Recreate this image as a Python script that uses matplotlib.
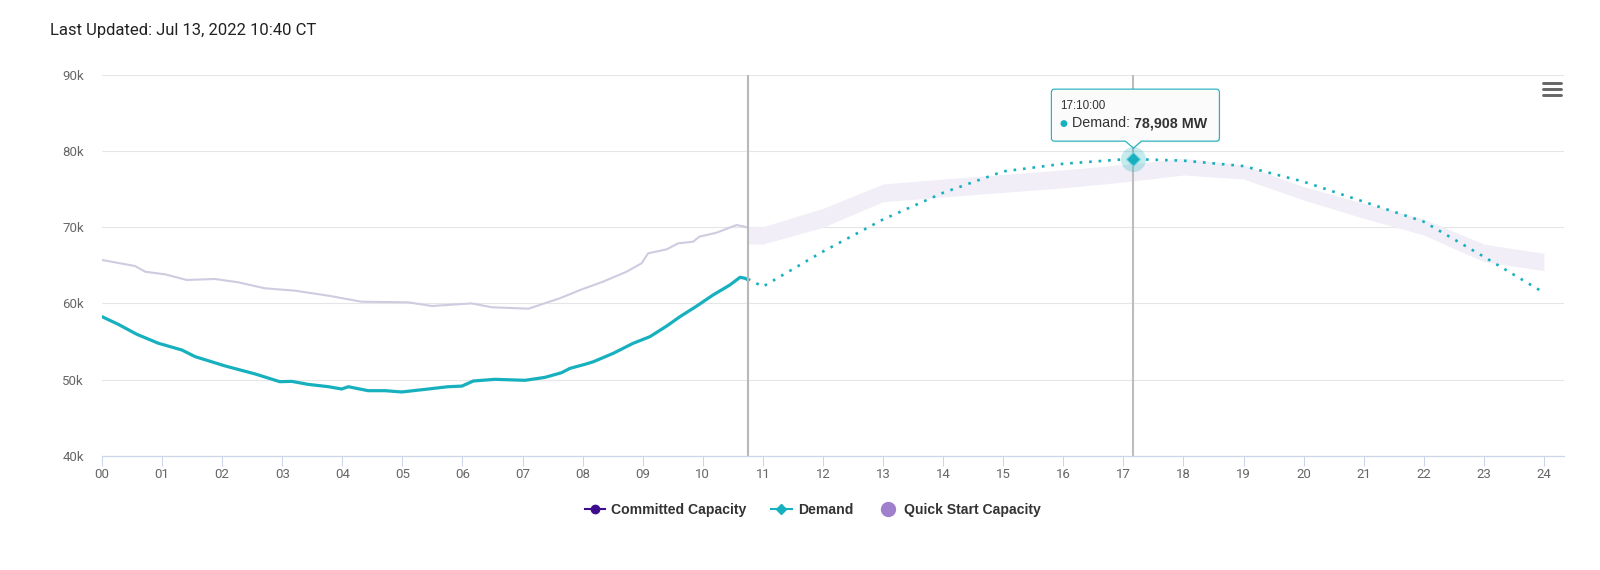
import numpy as np
import matplotlib.pyplot as plt
from matplotlib.lines import Line2D
from matplotlib.path import Path
from matplotlib.patches import PathPatch
from matplotlib.transforms import IdentityTransform

# actual demand (hour of day, MW)
demand_hours = [0.00, 0.27, 0.58, 0.94, 1.33, 1.55, 2.05, 2.55, 2.96, 3.16, 3.43, 3.77,
                3.99, 4.10, 4.43, 4.71, 4.99, 5.43, 5.76, 5.99, 6.18, 6.54, 7.04, 7.37,
                7.65, 7.79, 8.04, 8.18, 8.51, 8.84, 9.12, 9.40, 9.62, 9.90, 10.17, 10.45,
                10.62, 10.70, 10.75]
demand_mw = [58260, 57260, 55950, 54770, 53890, 53020, 51800, 50750, 49740, 49780, 49390, 49080,
             48780, 49080, 48560, 48560, 48390, 48780, 49080, 49160, 49830, 50050, 49920, 50300,
             50920, 51490, 52020, 52360, 53460, 54770, 55640, 57040, 58260, 59660, 61100, 62410,
             63420, 63300, 63100]

# committed capacity (shown dimmed)
committed_hours = [0.00, 0.55, 0.72, 1.05, 1.41, 1.88, 2.27, 2.71, 3.21, 3.77, 4.32, 5.10,
                   5.49, 6.15, 6.49, 7.10, 7.62, 7.96, 8.34, 8.73, 8.98, 9.09, 9.40, 9.59,
                   9.84, 9.94, 10.23, 10.56, 10.67, 10.72]
committed_mw = [65690, 64900, 64150, 63810, 63070, 63200, 62760, 61980, 61670, 61010, 60220, 60140,
                59660, 60000, 59490, 59310, 60670, 61760, 62850, 64150, 65250, 66560, 67090, 67870,
                68090, 68740, 69270, 70270, 70100, 70000]

# forecast demand (dotted)
forecast_hours = [10.75, 11, 12, 13, 14, 15, 16, 17, 17 + 10 / 60, 18, 19, 20, 21, 22, 23, 24]
forecast_mw = [63200, 62200, 66800, 71000, 74500, 77300, 78300, 78880, 78908, 78710, 78000,
               75950, 73330, 70710, 66120, 61400]

# quick start capacity band
qs_hours = [10.75, 11, 12, 13, 14, 15, 16, 17, 18, 19, 20, 21, 22, 23, 24]
qs_low = [67780, 67780, 69970, 73330, 73950, 74550, 75150, 75900, 76830, 76300, 73550, 71150,
          68960, 65470, 64290]
qs_high = [70050, 70050, 72460, 75650, 76300, 76900, 77500, 78200, 79000, 78140, 75300, 73120,
           71060, 67780, 66560]

now_hour = 10.75
hover_hour = 17 + 10 / 60
hover_mw = 78908
hover_label = "17:10:00"

x_ticks = list(range(25))
x_labels = [f"{h:02d}" for h in x_ticks]
y_ticks = [40000, 50000, 60000, 70000, 80000, 90000]
y_labels = ["40k", "50k", "60k", "70k", "80k", "90k"]

teal = '#17b0bf'
dim = '#cfcbe0'
band = '#f1eef7'
committed_color = '#3d0d8e'
quick_color = '#a07fcd'

plt.rcParams['font.family'] = ['Roboto', 'DejaVu Sans']
hc_font = ['Liberation Sans', 'DejaVu Sans']

fig = plt.figure(figsize=(16, 5.7), dpi=100)
ax = fig.add_axes([102 / 1600, 114 / 570, 1462 / 1600, 381.5 / 570])

ax.fill_between(qs_hours, qs_low, qs_high, color=band, lw=0, zorder=1)
ax.plot(committed_hours, committed_mw, color=dim, lw=1.5, zorder=2)
ax.plot(demand_hours, demand_mw, color=teal, lw=2.3, zorder=3, solid_capstyle='round')
ax.plot(forecast_hours, forecast_mw, color=teal, lw=1.9, ls=(0, (1, 2.6)), zorder=3)

ax.axvline(now_hour, color='#b8b8b8', lw=1.5, zorder=4)
ax.axvline(hover_hour, color='#bdbdbd', lw=1.5, zorder=4)

ax.plot([hover_hour], [hover_mw], 'o', ms=18, color=teal, alpha=0.25, mew=0, zorder=5)
ax.plot([hover_hour], [hover_mw], 'D', ms=7, color=teal, mec='#7fd6de', mew=0.8, zorder=6)

ax.set_xlim(0, 1462 / 60.08)
ax.set_ylim(40000, 90000)
ax.set_xticks(x_ticks)
ax.set_xticklabels(x_labels)
ax.set_yticks(y_ticks)
ax.set_yticklabels(y_labels)
ax.tick_params(axis='x', length=7.5, width=0.75, color='#ccd6eb', labelsize=9.5,
               labelcolor='#666666', pad=1.5)
ax.tick_params(axis='y', length=0, labelsize=9.5, labelcolor='#666666', pad=13)
ax.grid(axis='y', color='#e6e6e6', lw=0.8, zorder=0)
ax.set_axisbelow(True)
for side in ['top', 'right', 'left']:
    ax.spines[side].set_visible(False)
ax.spines['bottom'].set_color('#ccd6eb')
ax.spines['bottom'].set_linewidth(0.9)
ax.spines['bottom'].set_zorder(5)

fig.text(50 / 1600, 1 - 30.5 / 570, "Last Updated: Jul 13, 2022 10:40 CT", fontsize=12,
         color='#222222', va='center')

# legend
handles = [
    Line2D([], [], color=committed_color, lw=1.5, marker='o', ms=6),
    Line2D([], [], color=teal, lw=1.5, marker='D', ms=5),
    Line2D([], [], color=quick_color, lw=0, marker='o', ms=10),
]
fig.legend(handles, ["Committed Capacity", "Demand", "Quick Start Capacity"],
           loc='center', bbox_to_anchor=(813 / 1600, 1 - 510 / 570), ncol=3, frameon=False,
           prop={'weight': 'bold', 'size': 10.1, 'family': hc_font},
           labelcolor='#333333', handlelength=1.46, handletextpad=0.44, columnspacing=1.75)

# menu icon
for yy in [82.7, 89, 94.7]:
    fig.add_artist(Line2D([1543 / 1600, 1561 / 1600], [1 - yy / 570, 1 - yy / 570],
                          color='#666666', lw=2.1, solid_capstyle='round'))

# tooltip anchored at hovered point
fig.canvas.draw()
px, py = ax.transData.transform((hover_hour, hover_mw))
L, R, T, B, r = px - 82, px + 86, py + 70, py + 18, 3
verts = [(L + r, B), (px - 8, B), (px, py + 11), (px + 8, B), (R - r, B), (R, B), (R, B + r),
         (R, T - r), (R, T), (R - r, T), (L + r, T), (L, T), (L, T - r), (L, B + r), (L, B),
         (L + r, B), (L + r, B)]
codes = [Path.MOVETO, Path.LINETO, Path.LINETO, Path.LINETO, Path.LINETO, Path.CURVE3,
         Path.CURVE3, Path.LINETO, Path.CURVE3, Path.CURVE3, Path.LINETO, Path.CURVE3,
         Path.CURVE3, Path.LINETO, Path.CURVE3, Path.CURVE3, Path.CLOSEPOLY]
shadow = PathPatch(Path([(x + 1, y - 1) for x, y in verts], codes), transform=IdentityTransform(),
                   fc='#000000', alpha=0.08, lw=0, zorder=9)
box = PathPatch(Path(verts, codes), transform=IdentityTransform(), fc='#fbfbfb', ec=teal,
                lw=0.8, zorder=10)
fig.add_artist(shadow)
fig.add_artist(box)

fig.text(px - 73, py + 53, hover_label, transform=IdentityTransform(), fontsize=8.4,
         color='#333333', va='center', family=hc_font, zorder=11)
fig.text(px - 70, py + 36, "●", transform=IdentityTransform(), fontsize=6.5, color=teal,
         va='center', ha='center', family=['DejaVu Sans'], zorder=11)
t1 = fig.text(px - 61, py + 36, "Demand: ", transform=IdentityTransform(), fontsize=10.3,
              color='#333333', va='center', family=hc_font, zorder=11)
fig.canvas.draw()
w = t1.get_window_extent().width
fig.text(px - 61 + w, py + 36, f"{hover_mw:,} MW", transform=IdentityTransform(),
         fontsize=10.3, color='#333333', va='center', weight='bold', family=hc_font, zorder=11)

fig.savefig('out.png', dpi=100, facecolor='white')
